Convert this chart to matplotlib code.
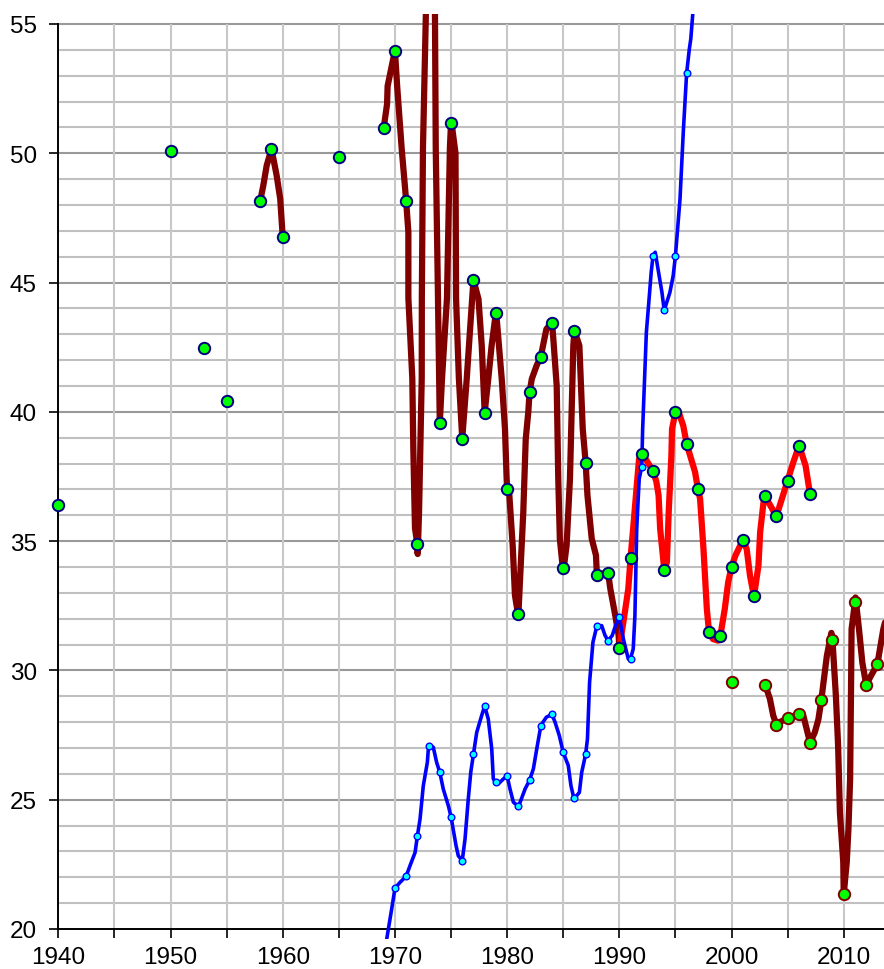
import numpy as np
import matplotlib
matplotlib.use("Agg")
import matplotlib.pyplot as plt

plt.rcParams['font.family'] = ['Liberation Sans', 'DejaVu Sans']

# ---- isolated / marker points (green, navy edge) ----
mk_navy_x = [1940, 1950, 1953, 1955, 1958, 1959, 1960, 1965,
             1969, 1970, 1971, 1972, 1974, 1975, 1976, 1977, 1978, 1979, 1980,
             1981, 1982, 1983, 1984, 1985, 1986, 1987, 1988, 1989, 1990,
             1991, 1992, 1993, 1994, 1995, 1996, 1997, 1998, 1999, 2000,
             2001, 2002, 2003, 2004, 2005, 2006, 2007]
mk_navy_y = [36.40, 50.09, 42.47, 40.42, 48.17, 50.17, 46.77, 49.86,
             50.97, 53.97, 48.17, 34.87, 39.57, 51.17, 38.96, 45.10, 39.97, 43.84, 37.03,
             32.17, 40.75, 42.12, 43.45, 33.95, 43.14, 38.03, 33.70, 33.78, 30.87,
             34.34, 38.35, 37.72, 33.87, 39.98, 38.76, 37.03, 31.47, 31.32, 34.01,
             35.03, 32.86, 36.73, 35.96, 37.34, 38.67, 36.81]

# ---- markers with dark red edge (2000s) ----
mk_dred_x = [2000, 2003, 2004, 2005, 2006, 2007, 2008, 2009, 2010, 2011, 2012, 2013]
mk_dred_y = [29.54, 29.45, 27.90, 28.15, 28.31, 27.20, 28.84, 31.16, 21.34, 32.63, 29.45, 30.24]

# ---- blue series markers ----
mk_blue_x = [1970, 1971, 1972, 1973, 1974, 1975, 1976, 1977, 1978, 1979, 1980,
             1981, 1982, 1983, 1984, 1985, 1986, 1987, 1988, 1989, 1990,
             1991, 1992, 1993, 1994, 1995, 1996]
mk_blue_y = [21.57, 22.04, 23.59, 27.08, 26.06, 24.34, 22.64, 26.76, 28.62, 25.67, 25.92,
             24.75, 25.75, 27.84, 28.30, 26.83, 25.05, 26.76, 31.72, 31.15, 32.08,
             30.45, 37.88, 46.02, 43.92, 46.02, 53.10]

# ---- line traces (incl. bends between markers) ----
brown1_x = [1958, 1958.27, 1958.57, 1959, 1959.46, 1959.78, 1960]
brown1_y = [48.17, 48.75, 49.52, 50.17, 49.14, 48.23, 46.77]

brown2_x = [1969.0, 1969.3, 1969.35, 1970.0, 1970.2, 1970.6, 1971.0, 1971.2, 1971.2,
            1971.55, 1971.64, 1971.79, 1972.0, 1972.03, 1972.15, 1972.39, 1972.4,
            1972.5, 1972.76, 1973.15, 1973.57, 1973.64, 1973.84, 1974.0, 1974.2,
            1974.64, 1974.9, 1975.0, 1975.1, 1975.4, 1975.45, 1975.7, 1976.0, 1976.4,
            1976.7, 1977.0, 1977.45, 1977.74, 1978.0, 1978.32, 1978.62, 1979.0,
            1979.1, 1979.52, 1979.81, 1979.95, 1980.0, 1980.2, 1980.5, 1980.7, 1981.0,
            1981.15, 1981.44, 1981.66, 1981.89, 1982.0, 1982.2, 1982.64, 1983.0,
            1983.2, 1983.5, 1984.0, 1984.12, 1984.42, 1984.56, 1984.7, 1985.0,
            1985.3, 1985.6, 1985.75, 1985.9, 1986.0, 1986.44, 1986.74, 1987.0,
            1987.16, 1987.54, 1987.92, 1988.0, 1989.0, 1989.2, 1989.64, 1989.94, 1990.0]
brown2_y = [50.97, 51.9, 52.6, 53.97, 52.6, 50.2, 48.17, 46.95, 44.4,
            41.3, 38.6, 35.5, 34.87, 34.5, 36.1, 41.3, 44.4,
            50.2, 55.4, 63.0, 55.4, 50.17, 44.36, 39.57, 41.3,
            44.4, 50.2, 51.17, 51.0, 50.0, 44.4, 41.3, 38.96, 41.27,
            43.2, 45.1, 44.36, 42.55, 39.97, 41.27, 42.56, 43.84,
            43.46, 41.27, 39.34, 37.5, 37.03, 36.77, 34.8, 32.9, 32.1,
            33.5, 36.1, 38.95, 40.0, 40.75, 41.27, 41.8, 42.12,
            42.56, 43.2, 43.45, 42.82, 41.0, 37.4, 35.08, 33.8,
            34.82, 37.4, 39.98, 42.56, 43.14, 42.56, 39.34, 38.03,
            36.77, 35.1, 34.45, 33.7, 33.78, 33.15, 32.12, 31.35, 30.87]

red_x = [1990.0, 1990.36, 1990.8, 1991.0, 1991.23, 1991.53, 1991.76, 1992.0, 1992.33,
         1993.0, 1993.3, 1993.5, 1993.64, 1993.94, 1994.0, 1994.24, 1994.4, 1994.64,
         1994.7, 1995.0, 1995.25, 1995.7, 1996.0, 1996.75, 1997.0, 1997.2, 1997.5,
         1997.8, 1998.0, 1998.35, 1998.8, 1999.0, 1999.4, 1999.7, 2000.0, 2000.36,
         2001.0, 2001.35, 2001.65, 2002.0, 2002.4, 2002.55, 2002.85, 2003.0, 2003.3,
         2004.0, 2005.0, 2005.5, 2006.0, 2006.1, 2006.6, 2007.0]
red_y = [30.87, 31.86, 33.15, 34.34, 35.47, 37.02, 38.18, 38.35, 38.18,
         37.72, 37.3, 36.77, 35.47, 34.18, 33.87, 34.18, 36.1, 38.3,
         39.34, 39.98, 40.04, 39.46, 38.76, 37.67, 37.03, 36.63, 34.7,
         32.38, 31.47, 31.21, 31.15, 31.32, 32.38, 33.4, 34.01, 34.45,
         35.03, 34.7, 33.66, 32.86, 34.05, 35.34, 36.5, 36.73, 36.5,
         35.96, 37.34, 38.04, 38.67, 38.6, 37.92, 36.81]

brown3_x = [2003.0, 2003.42, 2003.72, 2004.0, 2004.3, 2005.0, 2005.6, 2006.0, 2006.4,
            2006.7, 2007.0, 2007.42, 2007.74, 2008.0, 2008.2, 2008.5, 2008.9, 2009.0,
            2009.3, 2009.5, 2009.66, 2009.96, 2010.0, 2010.27, 2010.42, 2010.57,
            2010.66, 2010.7, 2011.0, 2011.05, 2011.36, 2011.66, 2012.0, 2013.0,
            2013.53, 2014.0]
brown3_y = [29.45, 28.9, 28.25, 27.9, 28.0, 28.15, 28.25, 28.31, 28.25,
            27.73, 27.2, 27.6, 28.1, 28.84, 29.54, 30.57, 31.45, 31.16,
            29.02, 27.09, 24.51, 22.58, 21.34, 22.58, 23.87, 25.8,
            29.67, 31.6, 32.63, 32.82, 31.6, 30.3, 29.45, 30.24,
            31.6, 32.4]

blue_x = [1969.0, 1969.27, 1969.71, 1969.95, 1970.0, 1970.45, 1971.0, 1971.35, 1971.8,
          1972.0, 1972.24, 1972.53, 1972.89, 1973.0, 1973.42, 1973.72, 1974.0, 1974.31,
          1974.76, 1975.0, 1975.45, 1975.65, 1976.0, 1976.25, 1976.54, 1976.76, 1977.0,
          1977.29, 1977.73, 1978.0, 1978.32, 1978.63, 1978.77, 1979.0, 1979.22,
          1979.66, 1980.0, 1980.26, 1980.56, 1981.0, 1981.16, 1981.6, 1982.0, 1982.34,
          1982.64, 1983.0, 1983.2, 1983.5, 1984.0, 1984.27, 1984.65, 1985.0, 1985.45,
          1985.69, 1985.9, 1986.0, 1986.44, 1986.65, 1987.0, 1987.16, 1987.35, 1987.65,
          1988.0, 1988.43, 1988.73, 1989.0, 1989.37, 1989.66, 1990.0, 1990.36, 1990.8,
          1991.0, 1991.24, 1991.39, 1991.55, 1991.77, 1992.0, 1992.08, 1992.41, 1992.7,
          1992.84, 1993.0, 1993.2, 1993.5, 1993.8, 1994.0, 1994.51, 1994.8, 1995.0,
          1995.41, 1995.7, 1996.0, 1996.24, 1996.37, 1996.54, 1996.75]
blue_y = [18.8, 19.61, 20.77, 21.42, 21.57, 21.8, 22.04, 22.45, 22.96,
          23.59, 24.25, 25.54, 26.44, 27.08, 27.03, 26.44, 26.06, 25.41,
          24.77, 24.34, 23.22, 22.83, 22.64, 23.48, 25.03, 26.06, 26.76,
          27.6, 28.25, 28.62, 28.12, 26.96, 25.8, 25.67, 25.61,
          25.8, 25.92, 25.41, 24.9, 24.75, 24.9, 25.41, 25.75, 26.19,
          26.96, 27.84, 28.0, 28.19, 28.3, 28.0, 27.48, 26.83, 26.32,
          25.54, 25.15, 25.05, 25.28, 26.06, 26.76, 27.35, 29.54, 31.09,
          31.72, 31.73, 31.35, 31.15, 31.35, 31.73, 32.08, 31.22, 30.44,
          30.45, 30.83, 32.12, 35.47, 37.4, 37.88, 39.34, 43.07, 44.62,
          45.39, 46.02, 46.17, 45.39, 44.62, 43.92, 44.62, 45.26, 46.02,
          48.23, 50.81, 53.10, 54.03, 54.42, 55.35, 57.0]

# ---- figure ----
fig = plt.figure(figsize=(8.84, 9.70), dpi=100)
x_right = 2013.59
ax = fig.add_axes([58.3 / 884, 29.7 / 970, (884 - 58.3) / 884, 925.7 / 970])
ax.set_xlim(1940, x_right)
ax.set_ylim(19.6, 55.4)

# grid
for v in range(21, 56):
    major = (v % 5 == 0)
    ax.hlines(v, 1940, x_right, colors='#999999' if major else '#c0c0c0',
              lw=1.5, zorder=0)
for yr in range(1945, 2014, 5):
    ax.vlines(yr, 20, 55, colors='#c8c8c8', lw=1.5, zorder=0)

for s in ['top', 'right']:
    ax.spines[s].set_visible(False)
ax.spines['left'].set_bounds(20, 55)
ax.spines['bottom'].set_position(('data', 20))
ax.spines['bottom'].set_bounds(1940, x_right)
for s in ['left', 'bottom']:
    ax.spines[s].set_linewidth(1.4)
    ax.spines[s].set_color('black')

ax.set_yticks(range(20, 56, 5))
ax.set_xticks(range(1940, 2014, 5))
ax.set_xticklabels([str(y) if y % 10 == 0 else '' for y in range(1940, 2014, 5)])
ax.tick_params(axis='both', direction='out', length=6.5, width=1.2, labelsize=17.5,
               colors='black')
ax.tick_params(axis='y', pad=9)
ax.tick_params(axis='x', pad=6)

line_kw = dict(solid_capstyle='round', solid_joinstyle='round')
ax.plot(brown1_x, brown1_y, color='#800000', lw=4.5, zorder=2, **line_kw)
ax.plot(brown2_x, brown2_y, color='#800000', lw=4.5, zorder=2, **line_kw)
ax.plot(brown3_x, brown3_y, color='#800000', lw=4.5, zorder=2, **line_kw)
ax.plot(red_x, red_y, color='#ff0000', lw=4.5, zorder=2, **line_kw)

ax.plot(blue_x, blue_y, color='#0000ff', lw=2.6, zorder=3, **line_kw)
ax.plot(mk_blue_x, mk_blue_y, ls='none', marker='o', ms=4.8, mfc='#00ffff',
        mec='#0000ff', mew=1.0, zorder=4)

ax.plot(mk_navy_x, mk_navy_y, ls='none', marker='o', ms=8.2, mfc='#00ff00',
        mec='#000080', mew=1.4, zorder=5, clip_on=False)
ax.plot(mk_dred_x, mk_dred_y, ls='none', marker='o', ms=8.2, mfc='#00ff00',
        mec='#800000', mew=1.4, zorder=5, clip_on=False)

fig.savefig('out.png', dpi=100)
